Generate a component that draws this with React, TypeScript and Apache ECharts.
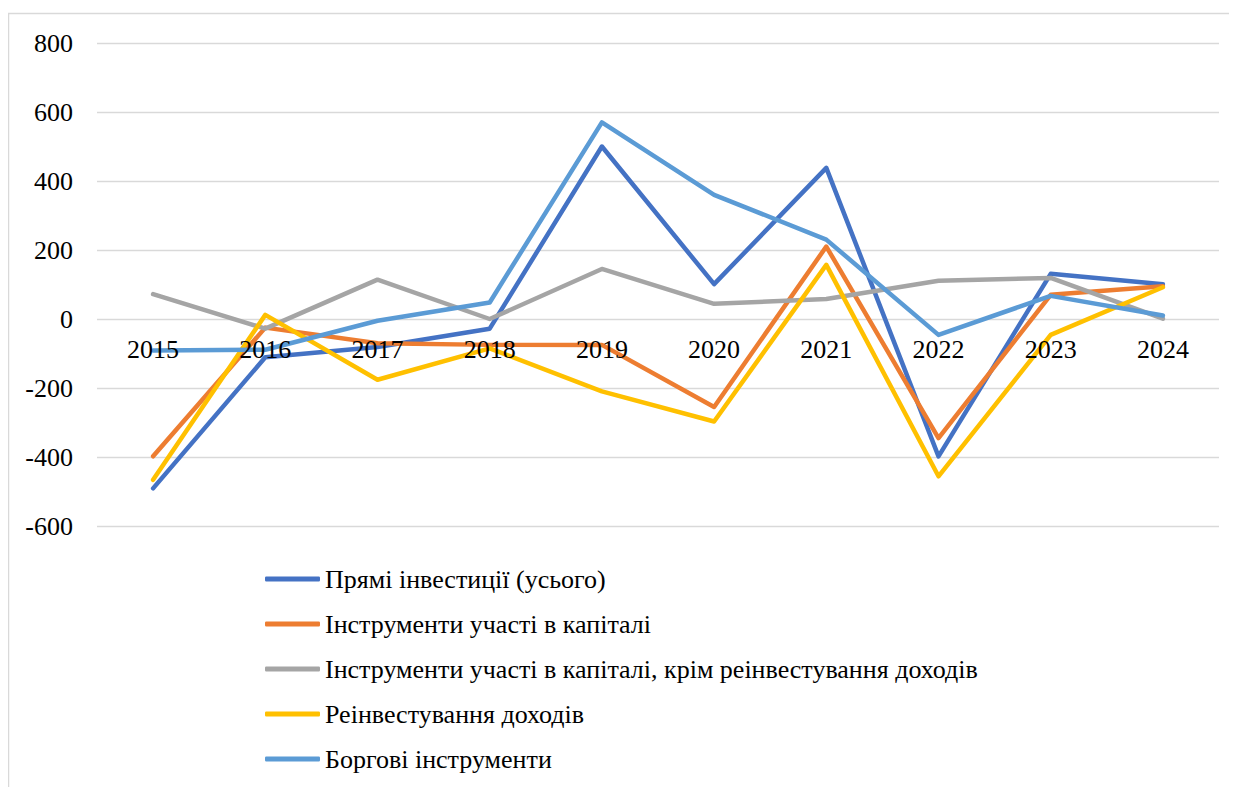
import React, { useEffect, useRef } from "react";
import * as echarts from "echarts";

const years = ["2015", "2016", "2017", "2018", "2019", "2020", "2021", "2022", "2023", "2024"];
const directTotal = [-491, -111, -81, -28, 500, 101, 438, -398, 131, 101];
const equity = [-398, -25, -70, -75, -75, -255, 210, -345, 70, 95];
const equityExclReinvest = [72, -28, 114, 0, 145, 44, 58, 111, 119, 1];
const reinvestedEarnings = [-466, 12, -176, -85, -210, -297, 157, -456, -46, 92];
const debtInstruments = [-91, -89, -5, 48, 570, 360, 230, -46, 67, 10];

const seriesNames = [
  "Прямі інвестиції (усього)",
  "Інструменти участі в капіталі",
  "Інструменти участі в капіталі, крім реінвестування доходів",
  "Реінвестування доходів",
  "Боргові інструменти",
];
const seriesData = [directTotal, equity, equityExclReinvest, reinvestedEarnings, debtInstruments];
const colors = ["#4472C4", "#ED7D31", "#A5A5A5", "#FFC000", "#5B9BD5"];

const FONT = "Liberation Serif";

export default function App() {
  const ref = useRef<HTMLDivElement>(null);
  useEffect(() => {
    if (!ref.current) return;
    const chart = echarts.init(ref.current, undefined, { renderer: "svg" });
    chart.setOption({
      animation: false,
      color: colors,
      textStyle: { fontFamily: FONT },
      graphic: [
        {
          type: "rect",
          shape: { x: 0.5, y: 5.5, width: 1400, height: 1000 },
          style: { fill: "none", stroke: "#d9d9d9", lineWidth: 1.5 },
          silent: true,
        },
      ],
      grid: { left: 89, top: 35, width: 1122, height: 483 },
      legend: {
        orient: "vertical",
        left: 252,
        top: 553,
        icon: "roundRect",
        itemWidth: 55,
        itemHeight: 5,
        itemGap: 19,
        textStyle: { fontFamily: FONT, fontSize: 26, color: "#000" },
        data: seriesNames,
      },
      xAxis: {
        type: "category",
        data: years,
        boundaryGap: true,
        offset: -207,
        axisLine: { show: false, onZero: false },
        axisTick: { show: false },
        axisLabel: { fontFamily: FONT, fontSize: 26, color: "#000", margin: 17, interval: 0 },
        splitLine: { show: false },
        z: 10,
      },
      yAxis: {
        type: "value",
        min: -600,
        max: 800,
        interval: 200,
        axisLine: { show: false },
        axisTick: { show: false },
        axisLabel: { fontFamily: FONT, fontSize: 26, color: "#000", margin: 24 },
        splitLine: { show: true, lineStyle: { color: "#d9d9d9", width: 1.3 } },
      },
      series: seriesNames.map((name, i) => ({
        name,
        type: "line",
        data: seriesData[i],
        symbol: "none",
        lineStyle: { width: 4.5, color: colors[i], cap: "round", join: "round" },
        itemStyle: { color: colors[i] },
      })),
    });
    return () => chart.dispose();
  }, []);
  return (
    <div style={{ position: "relative" }}>
      <span
        aria-hidden="true"
        style={{ position: "absolute", left: 0, top: 0, fontFamily: FONT, fontSize: 1, opacity: 0 }}
      >
        {"\u00a0"}
      </span>
      <div ref={ref} style={{ width: 1229, height: 779 }} />
    </div>
  );
}
